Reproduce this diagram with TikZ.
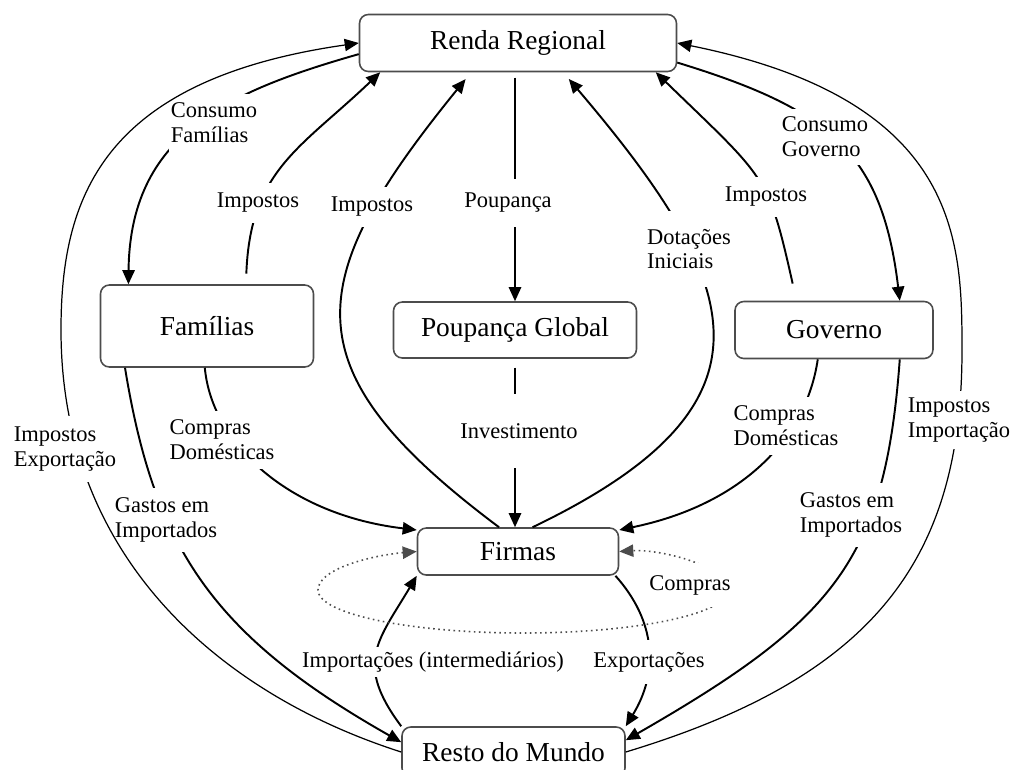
\documentclass[tikz,border=0pt]{standalone}
\usepackage{fontspec}
\setmainfont{Liberation Serif}
\usetikzlibrary{arrows.meta}

\begin{document}
\begin{tikzpicture}[x=0.02cm, y=-0.02cm,
    >={Triangle[length=8pt, width=7pt]},
    box/.style={draw=black!70, line width=0.9pt, rounded corners=5pt, fill=white, inner sep=0pt, font=\fontsize{15.6}{18}\selectfont},
    lbl/.style={fill=white, align=left, inner xsep=1pt, inner ysep=5pt, font=\fontsize{12.8}{14.2}\selectfont},
    flow/.style={->, line width=1.1pt},
    trade/.style={->, line width=0.7pt},
    ciclo/.style={<->, dotted, line width=0.9pt, black!70}]

    \clip (0,0) rectangle (1011,769);

    % Sectors
    \node[box, minimum width=6.34cm, minimum height=1.14cm] (renda) at (518,43) {Renda Regional};
    \node[box, minimum width=4.26cm, minimum height=1.64cm] (familias) at (207,326) {Famílias};
    \node[box, minimum width=4.86cm, minimum height=1.12cm] (poupanca) at (515,330) {Poupança Global};
    \node[box, minimum width=3.96cm, minimum height=1.14cm] (governo) at (834,330) {Governo};
    \node[box, minimum width=4.02cm, minimum height=0.94cm] (firmas) at (518,551.5) {Firmas};
    \node[box, minimum width=4.46cm, minimum height=1.00cm] (resto) at (513.5,752) {Resto do Mundo};

    % Flows between sectors
    \draw[flow] (renda.184) .. controls (226,92) and (130,135) .. (familias.152);
    \draw[flow, shorten <=6pt] (familias.47) .. controls (250,170) and (301,148) .. (renda.192);
    \draw[flow, shorten >=5pt] (firmas.128) .. controls (289,370) and (300,283) .. (renda.212);
    \draw[flow, shorten <=3pt] (renda.south -| poupanca.north) -- (poupanca.north);
    \draw[flow, shorten <=5pt] (poupanca.south) -- (poupanca.south |- firmas.north);
    \draw[flow, shorten >=5pt] (firmas.59) .. controls (787,405) and (746,287) .. (renda.327);
    \draw[flow, shorten <=10pt] (governo.142) .. controls (768,174) and (767,180) .. (renda.348);
    \draw[flow] (renda.353) .. controls (829,109) and (882,152) .. (governo.24);
    \draw[flow] (familias.267) .. controls (212,445) and (290,515) .. (firmas.168);
    \draw[flow] (familias.207) .. controls (154,545) and (210,634) .. (resto.175);
    \draw[flow] (governo.241) .. controls (806,440) and (740,505) .. (firmas.12);
    \draw[flow] (governo.336) .. controls (885,560) and (835,620) .. (resto.6);
    \draw[flow] (resto.north west) .. controls (354,663) and (378,641) .. (firmas.south west);
    \draw[flow] (firmas.346) .. controls (656,621) and (659,672) .. (resto.north east);

    % Intermediate purchases
    \draw[ciclo] (firmas.west) .. controls (375,555) and (318,568) .. (318,590)
        .. controls (318,614) and (410,633) .. (523,633)
        .. controls (636,633) and (728,614) .. (728,590)
        .. controls (728,566) and (660,549) .. (firmas.east);

    % Labels
    \node[lbl] (consfam) at (214,123) {Consumo\\Famílias};
    \node[lbl, inner ysep=6pt] (impfam) at (258,203) {Impostos};
    \node[lbl, inner ysep=6pt] (impfir) at (372,207) {Impostos};
    \node[lbl, inner ysep=8pt] (poup) at (508,203) {Poupança};
    \node[lbl, inner ysep=10pt] (dotac) at (689,249) {Dotações\\Iniciais};
    \node[lbl, inner ysep=6pt] (impgov) at (766,197) {Impostos};
    \node[lbl, inner ysep=4.5pt] (consgov) at (825,137) {Consumo\\Governo};
    \node[lbl] (compfam) at (222,440) {Compras\\Domésticas};
    \node[lbl, inner ysep=17pt] (invest) at (519,431) {Investimento};
    \node[lbl] (compgov) at (786,426) {Compras\\Domésticas};
    \node[lbl, inner ysep=5.5pt] (gastfam) at (166,520) {Gastos em\\Importados};
    \node[lbl, inner ysep=5.5pt] (gastgov) at (851,515) {Gastos em\\Importados};
    \node[lbl, inner ysep=3pt, inner xsep=0.5pt] (importint) at (433,662) {Importações (intermediários)};
    \node[lbl, inner ysep=7pt] (export) at (649,662) {Exportações};
    \node[lbl, inner ysep=7pt] (compras) at (690,585) {Compras};

    % Taxes on trade
    \draw[trade] (resto.west) .. controls (223,695) and (61,560) .. (61,330)
        .. controls (61,200) and (100,80) .. (renda.west);
    \draw[trade] (resto.east) .. controls (874,677) and (962,560) .. (962,350)
        .. controls (962,240) and (960,100) .. (renda.east);
    \node[lbl, inner ysep=6pt] (impexp) at (65,449) {Impostos\\Exportação};
    \node[lbl, inner ysep=4pt] (impimp) at (959,420) {Impostos\\Importação};

\end{tikzpicture}
\end{document}
